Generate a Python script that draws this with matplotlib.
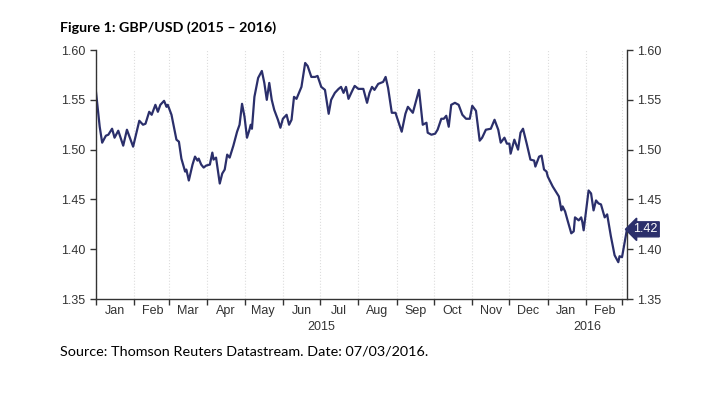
import matplotlib
matplotlib.use("Agg")
import matplotlib.pyplot as plt
import matplotlib.dates as mdates
import matplotlib.transforms as mtransforms
import numpy as np
import pandas as pd

# GBP/USD (days counted from 1 Jan 2015)
start = "2015-01-01"
days = [0, 3, 5, 8, 10, 13, 15, 18, 22, 25, 30, 35, 38, 40, 43, 45, 48, 50, 52, 55,
        57, 58, 61, 65, 67, 69, 72, 73, 75, 78, 80, 82, 83, 85, 87, 89, 92, 94, 95, 97,
        100, 102, 104, 106, 108, 111, 114, 116, 118, 120, 122, 124, 125, 126, 128, 131, 134, 136, 138, 140,
        142, 144, 147, 149, 151, 154, 156, 158, 160, 162, 164, 166, 169, 171, 174, 177, 179, 182, 185, 188,
        190, 193, 196, 198, 200, 202, 204, 207, 209, 212, 216, 219, 221, 223, 225, 228, 232, 234, 236, 239,
        242, 243, 247, 250, 252, 256, 259, 261, 264, 267, 268, 271, 274, 276, 279, 281, 283, 285, 287, 290,
        293, 296, 299, 302, 304, 307, 310, 312, 315, 319, 322, 325, 327, 330, 332, 334, 335, 338, 341, 343,
        345, 348, 351, 354, 355, 358, 360, 362, 364, 365, 369, 374, 376, 377, 379, 381, 384, 386, 387, 390,
        392, 393, 394, 396, 398, 400, 402, 404, 406, 408, 411, 413, 416, 419, 422, 423, 425, 427, 429]
rate = [1.558, 1.523, 1.507, 1.514, 1.515, 1.521, 1.512, 1.519, 1.504, 1.520, 1.503, 1.529, 1.525, 1.526, 1.538, 1.535, 1.545, 1.538, 1.545, 1.549,
        1.543, 1.545, 1.535, 1.510, 1.508, 1.491, 1.478, 1.480, 1.469, 1.485, 1.493, 1.489, 1.491, 1.485, 1.482, 1.484, 1.485, 1.497, 1.490, 1.492,
        1.466, 1.476, 1.480, 1.495, 1.492, 1.504, 1.518, 1.525, 1.546, 1.533, 1.512, 1.520, 1.525, 1.521, 1.553, 1.572, 1.579, 1.567, 1.550, 1.567,
        1.550, 1.540, 1.530, 1.522, 1.531, 1.535, 1.525, 1.530, 1.553, 1.551, 1.557, 1.563, 1.587, 1.584, 1.573, 1.573, 1.574, 1.563, 1.560, 1.536,
        1.550, 1.557, 1.561, 1.563, 1.557, 1.563, 1.551, 1.559, 1.564, 1.561, 1.561, 1.547, 1.557, 1.563, 1.560, 1.566, 1.568, 1.573, 1.562, 1.537,
        1.537, 1.533, 1.518, 1.536, 1.543, 1.537, 1.551, 1.560, 1.525, 1.527, 1.517, 1.515, 1.516, 1.520, 1.531, 1.531, 1.534, 1.523, 1.545, 1.547,
        1.545, 1.535, 1.531, 1.531, 1.544, 1.539, 1.509, 1.512, 1.520, 1.521, 1.530, 1.520, 1.507, 1.512, 1.506, 1.506, 1.496, 1.510, 1.500, 1.517,
        1.521, 1.506, 1.490, 1.489, 1.483, 1.493, 1.494, 1.480, 1.478, 1.473, 1.463, 1.453, 1.439, 1.443, 1.438, 1.429, 1.416, 1.418, 1.432, 1.429,
        1.432, 1.427, 1.419, 1.439, 1.459, 1.456, 1.439, 1.449, 1.446, 1.445, 1.432, 1.435, 1.413, 1.394, 1.387, 1.393, 1.392, 1.406, 1.420]
yticks = [1.35, 1.40, 1.45, 1.50, 1.55, 1.60]
last_label = "1.42"

dates = pd.Timestamp(start) + pd.to_timedelta(days, unit="D")

plt.rcParams['font.family'] = ['Liberation Sans', 'DejaVu Sans']

navy = "#2b2f6b"
dark = "#333333"

fig = plt.figure(figsize=(7.19, 3.94), dpi=100)
ax = fig.add_axes([0.1335, 0.241, 0.7385, 0.632])
ax.plot(dates, rate, color=navy, lw=1.6)

ax.set_xlim(dates[0], dates[-1])
ax.set_ylim(1.35, 1.60)

# months: ticks on the 1st, labels in the middle
ax.xaxis.set_major_locator(mdates.MonthLocator())
ax.xaxis.set_major_formatter(plt.NullFormatter())
ax.xaxis.set_minor_locator(mdates.MonthLocator(bymonthday=16))
ax.xaxis.set_minor_formatter(mdates.DateFormatter("%b"))
ax.tick_params(axis="x", which="minor", length=0, labelsize=9, labelcolor=dark, pad=4)
ax.tick_params(axis="x", which="major", length=4, width=1, color=dark, direction="out")
ax.grid(axis="x", which="major", color="#dddddd", ls=":", lw=0.8)

ax.set_yticks(yticks)
ax.yaxis.set_major_formatter(plt.FormatStrFormatter("%.2f"))
ax.tick_params(axis="y", length=4, width=1, color=dark, labelsize=9, labelcolor=dark,
               left=True, right=True, labelleft=True, labelright=True)

for s in ["left", "right", "bottom"]:
    ax.spines[s].set_color(dark)
    ax.spines[s].set_linewidth(1)
ax.spines["top"].set_visible(False)

# year labels under the months
trans = mtransforms.blended_transform_factory(ax.transData, ax.transAxes)
ax.text(pd.Timestamp("2015-07-02"), -0.09, "2015", transform=trans, ha="center", va="top",
        fontsize=9, color=dark)
ax.text(pd.Timestamp("2016-02-02"), -0.09, "2016", transform=trans, ha="center", va="top",
        fontsize=9, color=dark)

# last value marker on the right axis
trans2 = mtransforms.blended_transform_factory(ax.transAxes, ax.transData)
ax.text(1.012, rate[-1], last_label, transform=trans2, ha="left", va="center", fontsize=9,
        color="white", bbox=dict(boxstyle="larrow,pad=0.12", fc=navy, ec=navy))

fig.text(0.083, 0.93, "Figure 1: GBP/USD (2015 \u2013 2016)", fontsize=10.3, fontweight="bold",
         family=["Lato", "DejaVu Sans"], ha="left", va="center")
fig.text(0.083, 0.107, "Source: Thomson Reuters Datastream. Date: 07/03/2016.", fontsize=10.4,
         family=["Lato", "DejaVu Sans"], ha="left", va="center")

fig.savefig("out.png", dpi=100)
